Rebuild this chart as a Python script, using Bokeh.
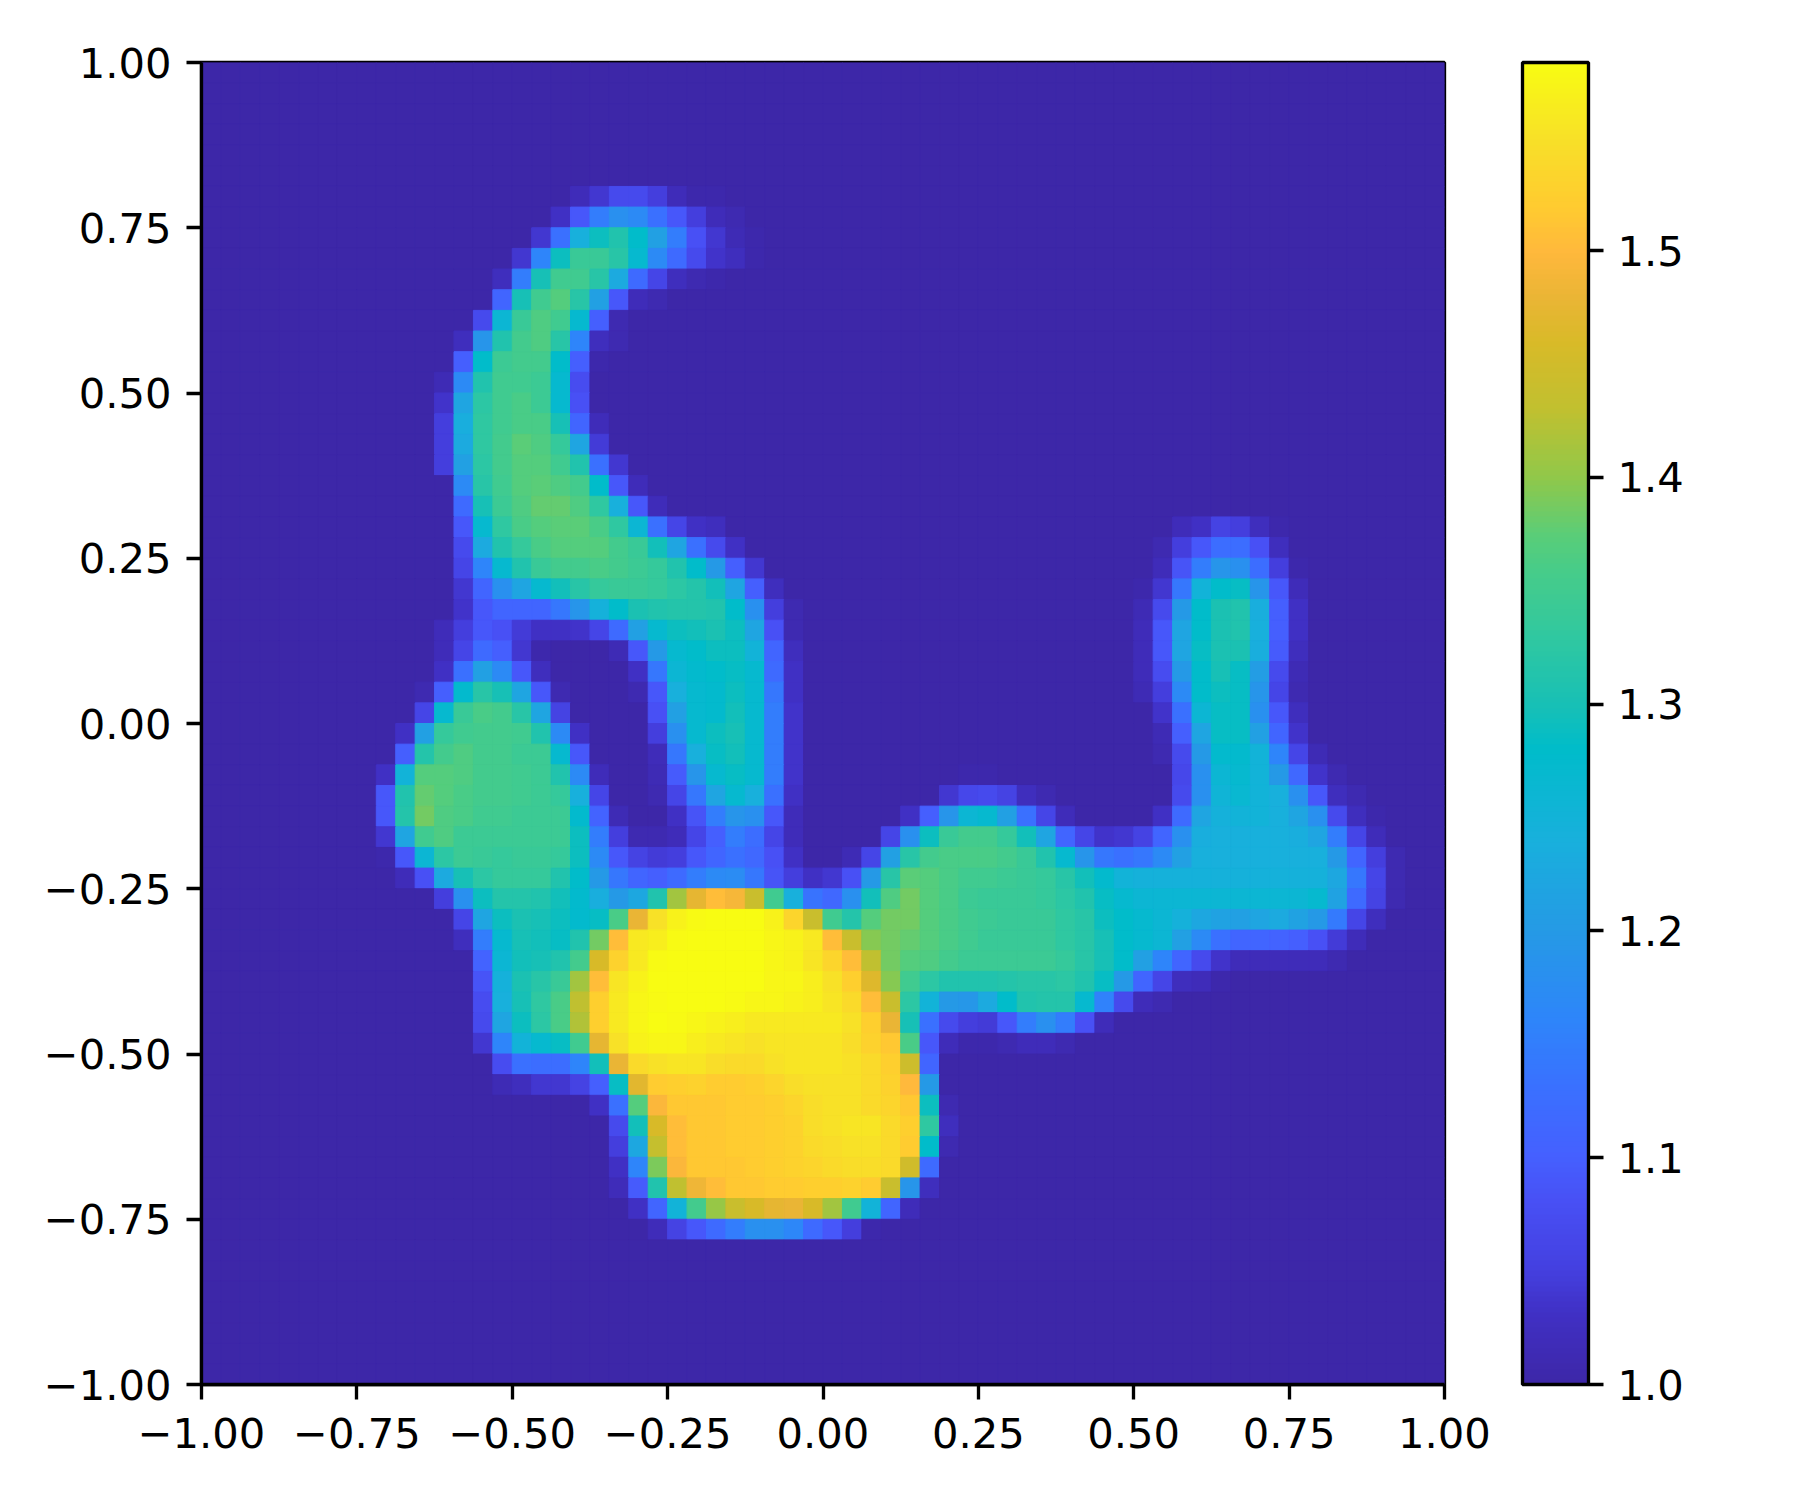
from bokeh.embed import file_html
from bokeh.resources import INLINE
from bokeh.plotting import figure
from bokeh.models import ColumnDataSource, LinearColorMapper, ColorBar, FixedTicker
from bokeh.transform import transform

BASE = 1.0
N = 64
# Each row (from the top): (first column, values) runs; everything else is BASE
row_06 = [(19, [1.02,1.04,1.07,1.07,1.05,1.02,1.005,1.005])]
row_07 = [(18, [1.03,1.09,1.15,1.18,1.17,1.13,1.09,1.05,1.02,1.01])]
row_08 = [(17, [1.04,1.13,1.24,1.29,1.31,1.28,1.21,1.15,1.08,1.04,1.015,1.005])]
row_09 = [(16, [1.04,1.16,1.29,1.34,1.34,1.32,1.27,1.17,1.12,1.07,1.035,1.025,1.005])]
row_10 = [(15, [1.025,1.15,1.30,1.35,1.35,1.32,1.23,1.12,1.06,1.025,1.01,1.005])]
row_11 = [(15, [1.11,1.30,1.35,1.37,1.32,1.21,1.09,1.02,1.01])]
row_12 = [(14, [1.07,1.26,1.34,1.365,1.35,1.27,1.10,1.01])]
row_13 = [(13, [1.025,1.19,1.31,1.355,1.365,1.32,1.16,1.025,1.01])]
row_14 = [(13, [1.10,1.28,1.345,1.355,1.355,1.28,1.10,1.005])]
row_15 = [(12, [1.015,1.17,1.31,1.35,1.35,1.345,1.27,1.075])]
row_16 = [(12, [1.035,1.22,1.325,1.35,1.36,1.345,1.27,1.08])]
row_17 = [(12, [1.05,1.235,1.33,1.35,1.36,1.36,1.30,1.11,1.02])]
row_18 = [(12, [1.05,1.23,1.33,1.355,1.375,1.365,1.335,1.22,1.045])]
row_19 = [(12, [1.05,1.21,1.325,1.355,1.37,1.37,1.35,1.31,1.13,1.04])]
row_20 = [(13, [1.17,1.32,1.35,1.37,1.375,1.365,1.355,1.28,1.09,1.02])]
row_21 = [(13, [1.12,1.30,1.345,1.365,1.38,1.38,1.365,1.33,1.24,1.09,1.02])]
row_22 = [(13, [1.09,1.27,1.33,1.36,1.37,1.375,1.375,1.36,1.33,1.26,1.13,1.06,1.03,1.025]),
          (50, [1.02,1.03,1.055,1.05,1.025,1.005])]
row_23 = [(13, [1.07,1.23,1.31,1.335,1.36,1.37,1.37,1.37,1.355,1.34,1.295,1.22,1.13,1.07,1.03]),
          (49, [1.01,1.05,1.09,1.125,1.125,1.08,1.025])]
row_24 = [(13, [1.06,1.16,1.27,1.31,1.34,1.355,1.355,1.36,1.355,1.345,1.335,1.31,1.28,1.20,1.10,1.04]),
          (49, [1.02,1.085,1.15,1.19,1.18,1.125,1.05,1.005])]
row_25 = [(13, [1.04,1.11,1.18,1.22,1.27,1.295,1.32,1.335,1.34,1.34,1.335,1.325,1.315,1.295,1.22,1.10,1.025]),
          (48, [1.005,1.04,1.14,1.25,1.28,1.285,1.19,1.09,1.02])]
row_26 = [(13, [1.035,1.09,1.11,1.11,1.11,1.14,1.19,1.245,1.28,1.305,1.31,1.315,1.315,1.31,1.28,1.18,1.05,1.01]),
          (48, [1.015,1.07,1.20,1.28,1.305,1.31,1.235,1.10,1.03])]
row_27 = [(12, [1.02,1.05,1.09,1.08,1.045,1.03,1.03,1.035,1.06,1.12,1.21,1.27,1.29,1.295,1.305,1.29,1.22,1.08,1.01]),
          (48, [1.02,1.09,1.22,1.28,1.305,1.31,1.24,1.10,1.03])]
row_28 = [(12, [1.02,1.06,1.12,1.10,1.04,1.005]),
          (21, [1.015,1.09,1.20,1.27,1.28,1.29,1.29,1.25,1.11,1.025]),
          (48, [1.02,1.09,1.22,1.285,1.305,1.305,1.235,1.095,1.025])]
row_29 = [(12, [1.03,1.13,1.21,1.17,1.09,1.025]),
          (22, [1.03,1.14,1.26,1.275,1.28,1.285,1.27,1.12,1.03]),
          (48, [1.02,1.075,1.20,1.28,1.30,1.285,1.205,1.07,1.015])]
row_30 = [(11, [1.01,1.10,1.275,1.32,1.30,1.22,1.09,1.01]),
          (22, [1.01,1.09,1.24,1.27,1.275,1.29,1.27,1.14,1.03]),
          (48, [1.015,1.05,1.17,1.28,1.29,1.285,1.19,1.06,1.01])]
row_31 = [(11, [1.06,1.27,1.34,1.36,1.355,1.32,1.22,1.055]),
          (23, [1.08,1.21,1.27,1.275,1.295,1.27,1.15,1.035]),
          (49, [1.035,1.13,1.26,1.285,1.285,1.18,1.09,1.025])]
row_32 = [(10, [1.03,1.21,1.335,1.35,1.355,1.355,1.35,1.31,1.17,1.03]),
          (23, [1.05,1.18,1.27,1.29,1.30,1.27,1.15,1.035]),
          (49, [1.015,1.10,1.22,1.285,1.285,1.21,1.11,1.035])]
row_33 = [(10, [1.10,1.315,1.355,1.365,1.355,1.355,1.345,1.345,1.27,1.09]),
          (23, [1.02,1.14,1.24,1.285,1.295,1.27,1.15,1.035]),
          (49, [1.01,1.07,1.20,1.275,1.275,1.25,1.16,1.06,1.015])]
row_34 = [(9, [1.03,1.25,1.37,1.37,1.365,1.355,1.355,1.35,1.345,1.31,1.17,1.02]),
          (23, [1.015,1.095,1.19,1.27,1.285,1.27,1.15,1.035]),
          (39, [1.005,1.005]),
          (50, [1.065,1.18,1.26,1.27,1.25,1.20,1.115,1.035,1.01])]
row_35 = [(9, [1.09,1.31,1.38,1.37,1.36,1.355,1.355,1.35,1.345,1.335,1.24,1.06]),
          (23, [1.01,1.06,1.14,1.22,1.27,1.24,1.13,1.03]),
          (38, [1.04,1.065,1.07,1.055,1.025,1.01]),
          (50, [1.07,1.18,1.255,1.265,1.25,1.24,1.18,1.09,1.025,1.01])]
row_36 = [(9, [1.09,1.315,1.385,1.365,1.36,1.35,1.35,1.345,1.345,1.345,1.275,1.105,1.015]),
          (24, [1.03,1.085,1.15,1.19,1.18,1.09,1.02]),
          (36, [1.03,1.10,1.19,1.26,1.27,1.21,1.13,1.06,1.02]),
          (49, [1.03,1.12,1.22,1.245,1.25,1.25,1.24,1.22,1.18,1.07,1.025,1.005])]
row_37 = [(9, [1.04,1.22,1.35,1.365,1.345,1.345,1.345,1.345,1.345,1.345,1.29,1.15,1.05,1.01,1.01,1.02,1.06,1.10,1.15,1.125,1.06,1.02]),
          (35, [1.06,1.18,1.29,1.34,1.355,1.355,1.335,1.295,1.22,1.11,1.06,1.035,1.04,1.055,1.11,1.18,1.235,1.24,1.24,1.24,1.24,1.235,1.22,1.15,1.06,1.02])]
row_38 = [(9, [1.005,1.09,1.26,1.325,1.345,1.34,1.335,1.34,1.34,1.335,1.29,1.17,1.09,1.055,1.045,1.05,1.09,1.11,1.13,1.115,1.08,1.03]),
          (33, [1.015,1.06,1.21,1.32,1.355,1.36,1.36,1.36,1.355,1.34,1.31,1.27,1.19,1.14,1.13,1.14,1.17,1.21,1.24,1.24,1.24,1.24,1.24,1.24,1.24,1.20,1.11,1.05,1.01])]
row_39 = [(10, [1.02,1.08,1.23,1.30,1.325,1.335,1.335,1.335,1.31,1.28,1.20,1.14,1.11,1.10,1.12,1.15,1.17,1.175,1.14,1.085,1.05,1.03,1.04,1.08,1.20,1.32,1.375,1.37,1.36,1.35,1.35,1.345,1.34,1.335,1.32,1.295,1.275,1.25,1.245,1.245,1.245,1.245,1.245,1.245,1.245,1.245,1.245,1.245,1.225,1.14,1.06,1.01])]
row_40 = [(12, [1.05,1.18,1.29,1.315,1.315,1.31,1.295,1.275,1.235,1.20,1.225,1.31,1.41,1.475,1.505,1.49,1.44,1.35,1.24,1.135,1.115,1.18,1.295,1.365,1.385,1.37,1.36,1.345,1.34,1.34,1.34,1.335,1.325,1.31,1.285,1.27,1.26,1.26,1.26,1.26,1.26,1.26,1.26,1.26,1.26,1.27,1.215,1.12,1.055,1.01])]
row_41 = [(13, [1.06,1.22,1.29,1.305,1.30,1.29,1.275,1.285,1.36,1.48,1.55,1.57,1.58,1.583,1.583,1.583,1.57,1.535,1.44,1.35,1.315,1.37,1.385,1.385,1.37,1.36,1.35,1.345,1.34,1.34,1.34,1.33,1.32,1.29,1.28,1.27,1.26,1.245,1.225,1.215,1.21,1.22,1.23,1.215,1.20,1.145,1.06,1.025])]
row_42 = [(13, [1.025,1.15,1.27,1.30,1.295,1.285,1.31,1.385,1.505,1.56,1.565,1.58,1.583,1.583,1.583,1.583,1.575,1.57,1.56,1.505,1.44,1.395,1.385,1.38,1.37,1.36,1.35,1.34,1.34,1.34,1.34,1.33,1.32,1.30,1.28,1.27,1.26,1.21,1.17,1.13,1.11,1.11,1.105,1.10,1.08,1.045,1.02])]
row_43 = [(14, [1.105,1.26,1.295,1.30,1.31,1.355,1.46,1.53,1.56,1.58,1.583,1.583,1.583,1.583,1.583,1.575,1.57,1.555,1.535,1.505,1.43,1.385,1.37,1.365,1.355,1.345,1.345,1.345,1.345,1.345,1.335,1.32,1.30,1.28,1.21,1.16,1.11,1.07,1.035,1.02,1.02,1.02,1.02,1.02,1.01])]
row_44 = [(14, [1.085,1.245,1.305,1.32,1.34,1.41,1.505,1.555,1.57,1.583,1.583,1.583,1.583,1.583,1.583,1.575,1.575,1.565,1.55,1.525,1.465,1.395,1.35,1.325,1.31,1.31,1.31,1.315,1.32,1.32,1.325,1.31,1.285,1.20,1.11,1.06,1.025,1.02,1.005])]
row_45 = [(14, [1.075,1.24,1.30,1.33,1.36,1.43,1.525,1.56,1.575,1.58,1.583,1.583,1.583,1.58,1.575,1.575,1.57,1.565,1.555,1.54,1.505,1.44,1.325,1.25,1.20,1.195,1.23,1.28,1.31,1.315,1.315,1.27,1.155,1.07,1.02,1.01])]
row_46 = [(14, [1.07,1.22,1.29,1.325,1.36,1.42,1.525,1.56,1.575,1.582,1.58,1.575,1.57,1.565,1.56,1.56,1.56,1.56,1.56,1.55,1.525,1.48,1.30,1.13,1.07,1.05,1.045,1.09,1.15,1.18,1.15,1.08,1.02])]
row_47 = [(14, [1.04,1.16,1.25,1.27,1.285,1.35,1.475,1.55,1.57,1.575,1.575,1.565,1.56,1.555,1.55,1.555,1.555,1.555,1.555,1.545,1.53,1.515,1.36,1.09,1.02,1.005,1.005,1.01,1.02,1.02,1.01])]
row_48 = [(15, [1.075,1.13,1.125,1.125,1.16,1.295,1.48,1.54,1.55,1.555,1.555,1.545,1.54,1.54,1.55,1.555,1.555,1.555,1.55,1.54,1.525,1.445,1.11])]
row_49 = [(15, [1.015,1.025,1.04,1.04,1.055,1.10,1.285,1.47,1.52,1.525,1.53,1.52,1.52,1.525,1.535,1.545,1.55,1.55,1.55,1.54,1.53,1.50,1.20])]
row_50 = [(20, [1.03,1.13,1.37,1.495,1.515,1.515,1.515,1.52,1.52,1.525,1.535,1.545,1.55,1.55,1.54,1.535,1.515,1.29,1.01])]
row_51 = [(21, [1.07,1.295,1.46,1.505,1.515,1.515,1.52,1.52,1.525,1.53,1.545,1.55,1.555,1.555,1.54,1.525,1.33,1.025])]
row_52 = [(21, [1.05,1.225,1.435,1.505,1.515,1.515,1.52,1.52,1.525,1.53,1.54,1.545,1.55,1.55,1.54,1.52,1.28,1.01])]
row_53 = [(21, [1.03,1.16,1.39,1.495,1.515,1.515,1.515,1.52,1.525,1.53,1.535,1.54,1.545,1.545,1.54,1.45,1.12])]
row_54 = [(21, [1.02,1.095,1.31,1.43,1.485,1.505,1.515,1.515,1.52,1.52,1.525,1.525,1.53,1.52,1.44,1.19,1.025])]
row_55 = [(22, [1.03,1.11,1.25,1.355,1.405,1.44,1.46,1.475,1.48,1.46,1.41,1.35,1.25,1.11,1.02])]
row_56 = [(23, [1.02,1.055,1.09,1.12,1.15,1.18,1.18,1.165,1.12,1.09,1.05,1.005])]

rows_by_index = {j: globals()[f"row_{j:02d}"] for j in range(6, 57)}

x_ticks = [-1.0, -0.75, -0.5, -0.25, 0.0, 0.25, 0.5, 0.75, 1.0]
x_tick_labels = ["\u22121.00", "\u22120.75", "\u22120.50", "\u22120.25", "0.00", "0.25", "0.50", "0.75", "1.00"]
cbar_ticks = [1.0, 1.1, 1.2, 1.3, 1.4, 1.5]
cbar_labels = ["1.0", "1.1", "1.2", "1.3", "1.4", "1.5"]
v_min, v_max = 1.0, 1.583

stops = [(1.00,"#3d27a8"),(1.03,"#4030c4"),(1.05,"#4440e0"),(1.08,"#4850f5"),(1.10,"#4560ff"),
         (1.13,"#3a70ff"),(1.16,"#2e85fa"),(1.20,"#259ae5"),(1.24,"#18b0dc"),(1.28,"#00bcca"),
         (1.30,"#18c0b5"),(1.33,"#30c8a0"),(1.36,"#48cc88"),(1.375,"#5acd78"),(1.40,"#90c84a"),
         (1.43,"#c0c030"),(1.46,"#d8ba28"),(1.48,"#eab535"),(1.50,"#ffb83c"),(1.52,"#ffcb30"),
         (1.55,"#f8e028"),(1.583,"#f8fc12")]

def make_palette(n=256):
    out = []
    for i in range(n):
        v = v_min + (v_max - v_min) * i / (n - 1)
        for (a, ca), (b, cb) in zip(stops, stops[1:]):
            if v <= b + 1e-9:
                t = (v - a) / (b - a)
                c = [round(int(ca[k:k+2], 16) * (1 - t) + int(cb[k:k+2], 16) * t) for k in (1, 3, 5)]
                out.append("#%02x%02x%02x" % tuple(c))
                break
    return out

grid = [[BASE] * N for _ in range(N)]
for j, runs in rows_by_index.items():
    for start, vals in runs:
        for k, v in enumerate(vals):
            grid[j][start + k] = v

step = 2.0 / N
left, right, top, bottom, val = [], [], [], [], []
for j in range(N):
    for i in range(N):
        left.append(-1 + i * step)
        right.append(-1 + (i + 1) * step)
        top.append(1 - j * step)
        bottom.append(1 - (j + 1) * step)
        val.append(grid[j][i])
source = ColumnDataSource(dict(left=left, right=right, top=top, bottom=bottom, val=val))

mapper = LinearColorMapper(palette=make_palette(), low=v_min, high=v_max)

FONT = "DejaVu Sans"
FS = "41.67px"
LW = 3.33

p = figure(frame_width=1243, frame_height=1322, x_range=(-1, 1), y_range=(-1, 1),
           output_backend="svg", toolbar_location=None, min_border_left=201,
           min_border_top=62, min_border_bottom=20, min_border_right=10,
           background_fill_color="#3d27a8", border_fill_color="white")
p.grid.visible = False
p.outline_line_color = "black"
p.outline_line_width = LW
p.quad(left="left", right="right", top="top", bottom="bottom", source=source,
       fill_color=transform("val", mapper), line_color=transform("val", mapper), line_width=1.0)

for ax in (p.xaxis[0], p.yaxis[0]):
    ax.ticker = FixedTicker(ticks=x_ticks)
    ax.major_label_overrides = dict(zip(x_ticks, x_tick_labels))
    ax.major_label_text_font = FONT
    ax.major_label_text_font_size = FS
    ax.major_label_text_color = "black"
    ax.axis_line_width = LW
    ax.axis_line_color = "black"
    ax.major_tick_line_width = LW
    ax.major_tick_line_color = "black"
    ax.major_tick_out = 15
    ax.major_tick_in = 0
    ax.minor_tick_line_color = None
p.xaxis[0].major_label_standoff = 18
p.yaxis[0].major_label_standoff = 15
p.yaxis[0].major_label_orientation = "horizontal"

cb = ColorBar(color_mapper=mapper, width=66, height=1322, location=(78, 0), padding=0,
              ticker=FixedTicker(ticks=cbar_ticks),
              major_label_overrides=dict(zip(cbar_ticks, cbar_labels)),
              major_label_text_font=FONT, major_label_text_font_size=FS,
              major_label_text_color="black",
              major_tick_in=0, major_tick_out=15, major_tick_line_color="black",
              major_tick_line_width=LW, minor_tick_line_color=None,
              bar_line_color="black", bar_line_width=LW, label_standoff=14,
              border_line_color=None, background_fill_color=None)
p.add_layout(cb, "right")

open("out.html", "w").write(file_html(p, INLINE))
